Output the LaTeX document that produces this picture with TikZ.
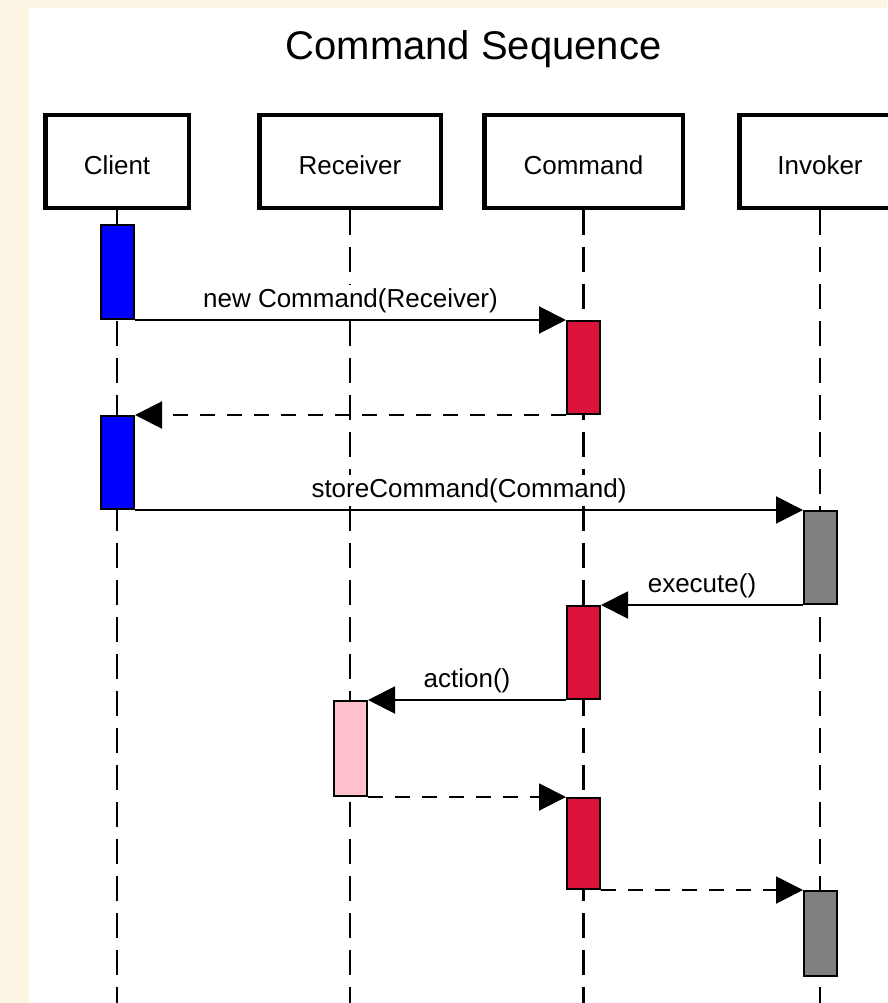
\documentclass[tikz,border=0pt]{standalone}
\usepackage{fontspec}
\setmainfont{Liberation Sans}
\usetikzlibrary{arrows.meta}
\definecolor{pagebg}{HTML}{FDF5E3}
\definecolor{actblue}{HTML}{0000FF}
\definecolor{actcrimson}{HTML}{DC143C}
\definecolor{actgray}{HTML}{808080}
\definecolor{actpink}{HTML}{FFC0CB}
\begin{document}
\begin{tikzpicture}[x=1pt,y=-1pt,
  participant/.style={draw, line width=4.5pt, fill=white, minimum height=92.5pt,
    inner sep=0pt, text height=27pt, text depth=0pt,
    font=\fontsize{26}{30}\selectfont},
  lifeline/.style={line width=2.5pt, dash pattern=on 25pt off 12pt},
  activation/.style={draw, line width=2pt, minimum width=33pt, inner sep=0pt},
  msg/.style={line width=2pt, -{Triangle[length=27pt,width=27pt]}},
  reply/.style={msg, dash pattern=on 15pt off 12pt},
  msglabel/.style={anchor=base, yshift=13pt, fill=white, inner xsep=2pt,
    inner ysep=3pt, font=\fontsize{26}{30}\selectfont},
  title/.style={anchor=base, inner sep=0pt, font=\fontsize{40}{46}\selectfont}
]
% page and panel
\useasboundingbox (0,0) rectangle (887,1003);
\fill[pagebg] (0,0) rectangle (887,1003);
\fill[white] (29,8) rectangle (887,1003);

\node[title] (title) at (473.5,60) {Command Sequence};

% participants
\node[participant, minimum width=143.5pt] (client)   at (117,161.5)   {Client};
\node[participant, minimum width=181.5pt] (receiver) at (350,161.5)   {Receiver};
\node[participant, minimum width=198.5pt] (command)  at (583.5,161.5) {Command};
\node[participant, minimum width=161.5pt] (invoker)  at (820,161.5)   {Invoker};

% lifelines
\coordinate (bottomEdge) at (0,1003);
\draw[lifeline] (client.south)   -- (client.south |- bottomEdge);
\draw[lifeline] (receiver.south) -- (receiver.south |- bottomEdge);
\draw[lifeline] (command.south)  -- (command.south |- bottomEdge);
\draw[lifeline] (invoker.south)  -- (invoker.south |- bottomEdge);

% activations
\node[activation, fill=actblue,    minimum height=94pt] (a1) at (117.5,272)   {};
\node[activation, fill=actcrimson, minimum height=93pt] (c1) at (583.5,367.5) {};
\node[activation, fill=actblue,    minimum height=93pt] (a2) at (117.5,462.5) {};
\node[activation, fill=actgray,    minimum height=93pt] (i1) at (820.5,557.5) {};
\node[activation, fill=actcrimson, minimum height=93pt] (c2) at (583.5,652.5) {};
\node[activation, fill=actpink,    minimum height=95pt] (r1) at (350.5,748.5) {};
\node[activation, fill=actcrimson, minimum height=91pt] (c3) at (583.5,843.5) {};
\node[activation, fill=actgray,    minimum height=85pt] (i2) at (820.5,933.5) {};

% messages
\draw[msg]   (a1.south east) -- node[msglabel] {new Command(Receiver)} (c1.north west);
\draw[reply] (c1.south west) -- (a2.north east);
\draw[msg]   (a2.south east) -- node[msglabel] {storeCommand(Command)} (i1.north west);
\draw[msg]   (i1.south west) -- node[msglabel] {execute()} (c2.north east);
\draw[msg]   (c2.south west) -- node[msglabel] {action()} (r1.north east);
\draw[reply] (r1.south east) -- (c3.north west);
\draw[reply] (c3.south east) -- (i2.north west);
\end{tikzpicture}
\end{document}
